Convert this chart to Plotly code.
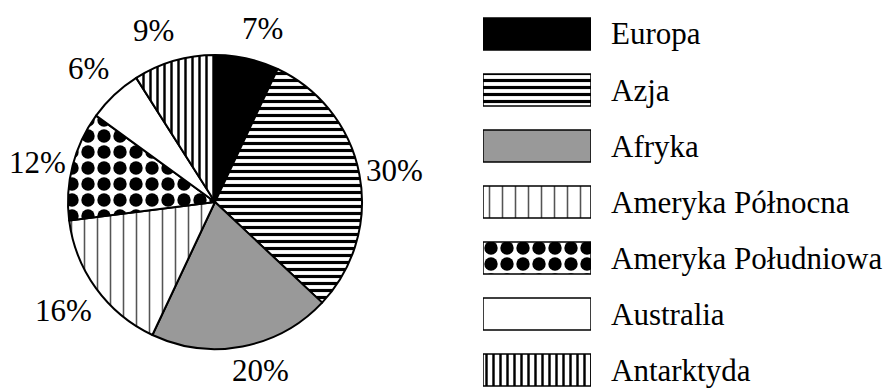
import math
import plotly.graph_objects as go

# Share of each continent (percent)
continents = ["Europa", "Azja", "Afryka", "Ameryka Północna",
              "Ameryka Południowa", "Australia", "Antarktyda"]
shares = [7, 30, 20, 16, 12, 6, 9]

# Fill style per continent
bg_colors = ["black", "white", "#999999", "white", "white", "white", "white"]
fg_colors = ["black", "black", "black", "#555555", "black", "black", "black"]
shapes = ["", "-", "", "|", ".", "", "|"]
sizes = [8, 7, 8, 13, 16, 8, 7]
solidity = [0.3, 0.45, 0.3, 0.12, 0.55, 0.3, 0.35]

# Small pixel nudges for the percentage labels around the pie
label_nudge = [(8, 2), (3, 2), (12, -8), (-6, 3), (-3, 5), (-3, -2), (-11, 1)]

FONT = "Times New Roman, Liberation Serif, serif"
W, H = 894, 390
cx, cy, r = 215, 202, 147          # pie centre / radius in pixels
label_r = 180                      # distance of percentage labels from centre

fig = go.Figure()

fig.add_trace(go.Pie(
    labels=continents,
    values=shares,
    sort=False,
    direction="clockwise",
    rotation=0,
    textinfo="none",
    showlegend=False,
    marker=dict(colors=bg_colors, line=dict(color="black", width=2),
                pattern=dict(shape=shapes, fgcolor=fg_colors, bgcolor=bg_colors,
                             size=sizes, solidity=solidity, fillmode="replace")),
    domain=dict(x=[(cx - r) / W, (cx + r) / W],
                y=[(H - cy - r) / H, (H - cy + r) / H]),
))

# Legend swatches: one patterned bar per continent
for i, name in enumerate(continents):
    fig.add_trace(go.Bar(
        x=[1],
        y=[name],
        orientation="h",
        width=0.57,
        showlegend=False,
        marker=dict(color=bg_colors[i], line=dict(color="black", width=1.5),
                    pattern=dict(shape=shapes[i], fgcolor=fg_colors[i],
                                 bgcolor=bg_colors[i], size=sizes[i],
                                 solidity=solidity[i], fillmode="replace")),
    ))

annotations = []
total = sum(shares)
cum = 0
for (name, v), (dx, dy) in zip(zip(continents, shares), label_nudge):
    mid = (cum + v / 2) / total * 2 * math.pi
    cum += v
    px = cx + label_r * math.sin(mid) + dx
    py = cy - label_r * math.cos(mid) + dy
    annotations.append(dict(
        x=px / W, y=1 - py / H, xref="paper", yref="paper",
        text=f"{v}%", showarrow=False, xanchor="center", yanchor="middle",
        font=dict(family=FONT, size=31, color="black"),
    ))

for name in continents:
    annotations.append(dict(
        x=1, y=name, xref="x", yref="y", xshift=18,
        text=name, showarrow=False, xanchor="left", yanchor="middle",
        font=dict(family=FONT, size=31, color="black"),
    ))

fig.update_layout(
    width=W, height=H,
    margin=dict(l=0, r=0, t=0, b=0),
    paper_bgcolor="white", plot_bgcolor="white",
    barmode="overlay",
    xaxis=dict(domain=[483 / W, 591 / W], range=[0, 1], visible=False,
               fixedrange=True),
    yaxis=dict(domain=[0, 1], range=[6.357, -0.607], visible=False,
               type="category", categoryorder="array", categoryarray=continents,
               fixedrange=True),
    annotations=annotations,
)

fig.write_html("out.html")
